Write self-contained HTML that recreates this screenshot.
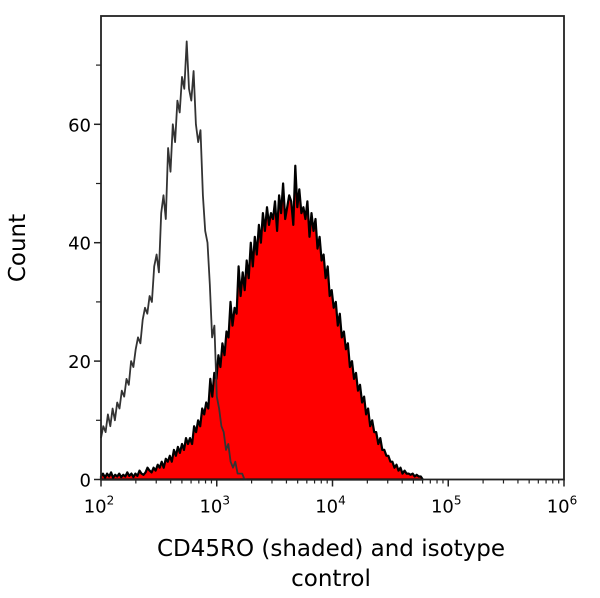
<!DOCTYPE html>
<html><head><meta charset="utf-8"><style>
body{margin:0;background:#fff;}
svg{display:block;font-family:"DejaVu Sans","Liberation Sans",sans-serif;}
</style></head><body>
<svg id="chart" width="600" height="598"></svg>
<script>
const isoLogStart=2.0, isoStep=0.02;
const isotypeCounts=[7,9,8,11,9,12,10,13,12,15,14,17,16,20,19,22,24,23,27,29,28,31,30,36,38,35,45,48,44,56,52,60,57,64,62,68,66,74,66,64,69,60,57,59,48,42,40,33,24,26,14,12,9,8,5,6,3,2,3,1,1,1,0,0];
const cdLogStart=2.0, cdLogEnd=4.78;
const cd45Counts=[0.5,1,0.3,1,0.5,1.2,0.3,0.8,0.5,1,0.4,0.8,0.5,1.2,0.6,1,0.4,1,0.6,1.5,1,0.8,1.2,2,1.5,1.2,2,1.5,2.5,2,3,2,3.5,3,4,3,5,4,5.5,4.5,6,5,7,6,7,6,9,8,10,9,12,11,13,12,17,14,18,17,21,19,23,21,25,24,30,26,29,28,36,31,35,32,37,34,40,36,41,38,43,40,45,42,46,43,45,44,47,42,48,45,50,44,46,48,47,43,53,46,49,45,46,44,47,41,45,42,44,39,41,37,38,34,36,31,32,29,30,26,28,24,25,22,23,19,20,17,18,15,16,13,14,11,12,9,10,8,8,6,7,5,5,4,4,3,3,2,2.5,1.5,2,1,1.5,1,1,0.8,1,0.5,0.8,0.5,0.5,0];
const cdStep=(cdLogEnd-cdLogStart)/(cd45Counts.length-1);

const xTickExps=[2,3,4,5,6];
const yTicks=[0,20,40,60];
const yMinor=[10,30,50,70];

const L=101,R=564,T=16,B=479.5;
const xs=v=>L+(v-2)/4*(R-L);
const ys=c=>B-c*5.92;
const NS='http://www.w3.org/2000/svg';
const svg=document.getElementById('chart');
function mk(t,a){const e=document.createElementNS(NS,t);for(const k in a)e.setAttribute(k,a[k]);svg.appendChild(e);return e;}

let d='M'+xs(cdLogStart)+','+ys(0);
cd45Counts.forEach((c,i)=>{d+=' L'+xs(cdLogStart+i*cdStep).toFixed(1)+','+ys(c).toFixed(1);});
d+=' L'+xs(cdLogStart+(cd45Counts.length-1)*cdStep).toFixed(1)+','+ys(0)+' Z';
const sh=mk('path',{d:d,fill:'#ff0000',stroke:'#000','stroke-width':2.2,'stroke-linejoin':'round'});



let d2='';
isotypeCounts.forEach((c,i)=>{d2+=(i?' L':'M')+xs(isoLogStart+i*isoStep).toFixed(1)+','+ys(c).toFixed(1);});
const iso=mk('path',{d:d2,fill:'none',stroke:'#333','stroke-width':1.8,'stroke-linejoin':'round'});



const fr=mk('rect',{x:L,y:T,width:R-L,height:B-T,fill:'none',stroke:'#222','stroke-width':1.8});



xTickExps.forEach((e,i)=>{
  const x=xs(e);
  const t=mk('line',{x1:x,x2:x,y1:B,y2:B+7,stroke:'#222','stroke-width':1.5});
  
  
  const tx=mk('text',{x:x-2,y:B+33,'font-size':18,'text-anchor':'middle',fill:'#000'});
  tx.innerHTML='10<tspan dy="-8" font-size="12">'+e+'</tspan>';
  
  
  if(i<xTickExps.length-1){
    for(let m=2;m<=9;m++){
      const xm=xs(e+Math.log10(m));
      const mt=mk('line',{x1:xm,x2:xm,y1:B,y2:B+4,stroke:'#222','stroke-width':1.2});
      
      
    }
  }
});
yTicks.forEach(v=>{
  const y=ys(v);
  const t=mk('line',{x1:L-7,x2:L,y1:y,y2:y,stroke:'#222','stroke-width':1.5});
  
  
  const tx=mk('text',{x:L-10,y:y+7,'font-size':18,'text-anchor':'end',fill:'#000'});
  tx.textContent=v;
  
  
});
yMinor.forEach(v=>{
  const y=ys(v);
  const t=mk('line',{x1:L-5,x2:L,y1:y,y2:y,stroke:'#222','stroke-width':1.2});
  
  
});
const yt=mk('text',{x:0,y:0,'font-size':23,'text-anchor':'middle',fill:'#000',transform:'translate(25,248) rotate(-90)'});
yt.textContent='Count';


const x1=mk('text',{x:331,y:556,'font-size':23,'text-anchor':'middle',fill:'#000'});
x1.textContent='CD45RO (shaded) and isotype';


const x2=mk('text',{x:331,y:586,'font-size':23,'text-anchor':'middle',fill:'#000'});
x2.textContent='control';


</script>
</body></html>
